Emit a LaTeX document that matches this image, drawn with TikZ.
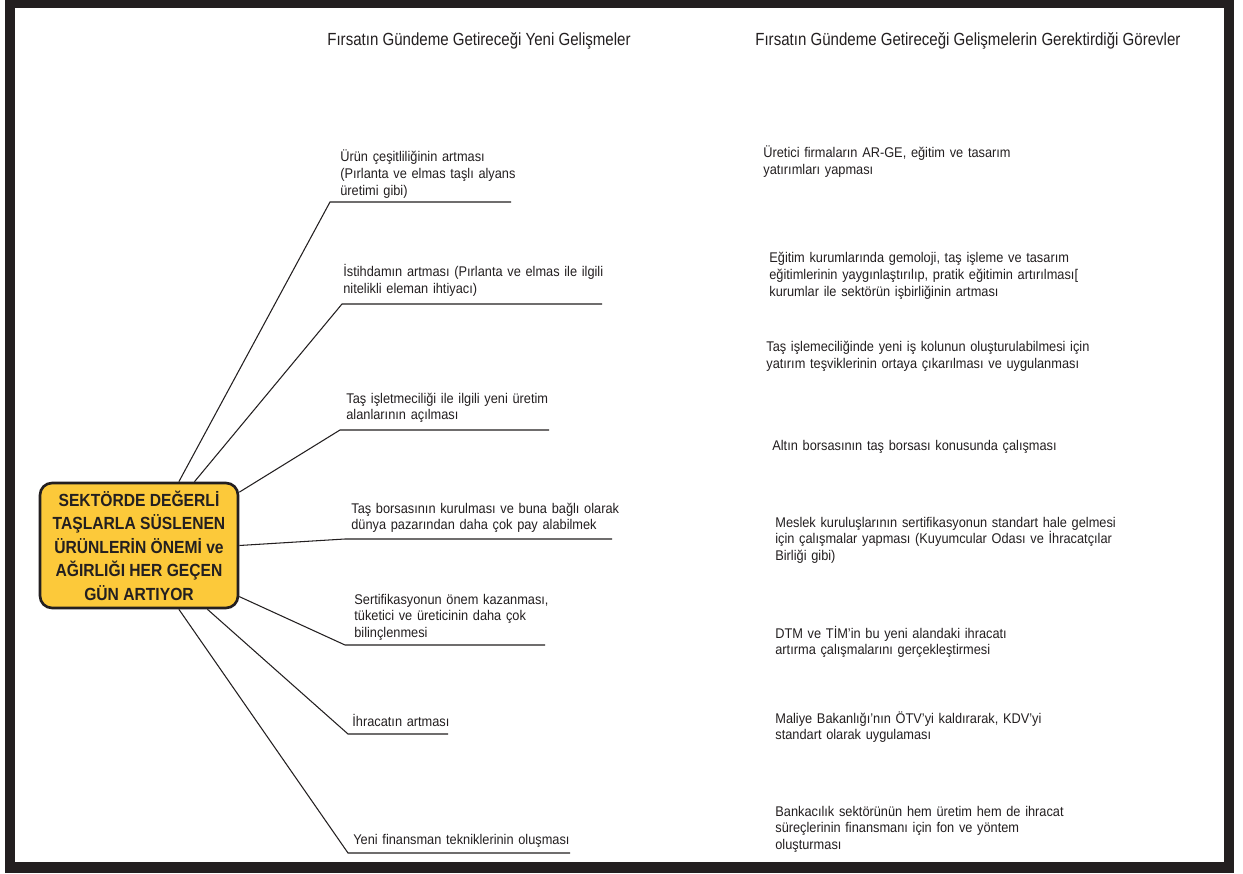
\documentclass[tikz,border=0pt]{standalone}
\usepackage{fontspec}
\setmainfont{Liberation Sans}[FakeStretch=0.91]
\newfontfamily\headfont{Liberation Sans}[FakeStretch=0.857]
\newfontfamily\hubfont{Liberation Sans Bold}[FakeStretch=0.89]
\definecolor{inkc}{RGB}{35,31,32}
\definecolor{hubyellow}{RGB}{252,201,58}

\begin{document}
\begin{tikzpicture}[x=0.02cm, y=-0.02cm,
    head/.style={anchor=base west, inner sep=0, font=\headfont\fontsize{10}{12}\selectfont, text=inkc},
    item/.style={anchor=base west, inner sep=0, text width=9cm, align=left,
        font=\fontsize{8}{9.6}\selectfont, text=inkc},
    hub/.style={draw=inkc, line width=1.5pt, fill=hubyellow, rounded corners=0.24cm,
        minimum width=3.96cm, minimum height=2.5cm, align=center, text=inkc,
        font=\hubfont\fontsize{10}{13.4}\selectfont},
    branch/.style={draw=inkc, line width=0.6pt}]
\useasboundingbox (0,0) rectangle (1243,874);
% frame
\fill[inkc] (5,0) rectangle (1234,873);
\fill[white] (15,8) rectangle (1224,862);

% column titles
\node[head] (h1) at (327,46) {Fırsatın Gündeme Getireceği Yeni Gelişmeler};
\node[head] (h2) at (755,46) {Fırsatın Gündeme Getireceği Gelişmelerin Gerektirdiği Görevler};

% centre box
\node[hub] (hub) at (139,545.5) {SEKTÖRDE DEĞERLİ\\TAŞLARLA SÜSLENEN\\ÜRÜNLERİN ÖNEMİ ve\\AĞIRLIĞI HER GEÇEN\\GÜN ARTIYOR};

% developments
\coordinate (u1) at (330,202); \coordinate (u1e) at (511,202);
\coordinate (u2) at (342,304); \coordinate (u2e) at (602,304);
\coordinate (u3) at (340,430); \coordinate (u3e) at (549,430);
\coordinate (u4) at (345,539); \coordinate (u4e) at (612,539);
\coordinate (u5) at (345,645); \coordinate (u5e) at (545,645);
\coordinate (u6) at (348,734); \coordinate (u6e) at (448,734);
\coordinate (u7) at (348,853); \coordinate (u7e) at (570,853);

\node[item] (d1) at (340,162) {Ürün çeşitliliğinin artması\\(Pırlanta ve elmas taşlı alyans\\üretimi gibi)};
\node[item] (d2) at (343,277) {İstihdamın artması (Pırlanta ve elmas ile ilgili\\nitelikli eleman ihtiyacı)};
\node[item] (d3) at (346,403) {Taş işletmeciliği ile ilgili yeni üretim\\alanlarının açılması};
\node[item] (d4) at (351,513) {Taş borsasının kurulması ve buna bağlı olarak\\dünya pazarından daha çok pay alabilmek};
\node[item] (d5) at (354,604) {Sertifikasyonun önem kazanması,\\tüketici ve üreticinin daha çok\\bilinçlenmesi};
\node[item] (d6) at (352,726) {İhracatın artması};
\node[item] (d7) at (353,844) {Yeni finansman tekniklerinin oluşması};

\draw[branch] (hub.58.8) -- (u1) -- (u1e);
\draw[branch] (hub.49.6) -- (u2) -- (u2e);
\draw[branch] (hub.28.8) -- (u3) -- (u3e);
\draw[branch] (hub.0.5) -- (u4) -- (u4e);
\draw[branch] (hub.-27.9) -- (u5) -- (u5e);
\draw[branch] (hub.-43.5) -- (u6) -- (u6e);
\draw[branch] (hub.-58.8) -- (u7) -- (u7e);

% tasks
\node[item] (g1) at (763,158) {Üretici firmaların AR-GE, eğitim ve tasarım\\yatırımları yapması};
\node[item] (g2) at (769,263) {Eğitim kurumlarında gemoloji, taş işleme ve tasarım\\eğitimlerinin yaygınlaştırılıp, pratik eğitimin artırılması[\\kurumlar ile sektörün işbirliğinin artması};
\node[item] (g3) at (766,352) {Taş işlemeciliğinde yeni iş kolunun oluşturulabilmesi için\\yatırım teşviklerinin ortaya çıkarılması ve uygulanması};
\node[item] (g4) at (772,450) {Altın borsasının taş borsası konusunda çalışması};
\node[item] (g5) at (775,527) {Meslek kuruluşlarının sertifikasyonun standart hale gelmesi\\için çalışmalar yapması (Kuyumcular Odası ve İhracatçılar\\Birliği gibi)};
\node[item] (g6) at (775,638) {DTM ve TİM’in bu yeni alandaki ihracatı\\artırma çalışmalarını gerçekleştirmesi};
\node[item] (g7) at (775,723) {Maliye Bakanlığı’nın ÖTV’yi kaldırarak, KDV’yi\\standart olarak uygulaması};
\node[item] (g8) at (775,816) {Bankacılık sektörünün hem üretim hem de ihracat\\süreçlerinin finansmanı için fon ve yöntem\\oluşturması};
\end{tikzpicture}
\end{document}
